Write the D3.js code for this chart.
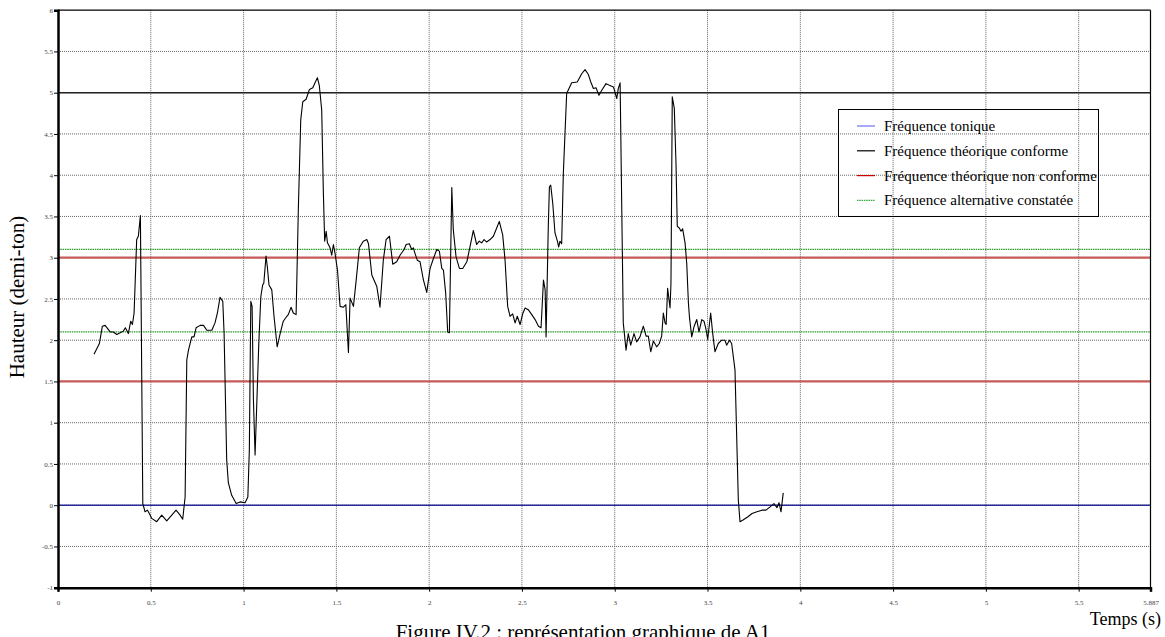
<!DOCTYPE html>
<html><head><meta charset="utf-8">
<script src="https://cdn.jsdelivr.net/npm/d3@7"></script>
<style>
html,body{margin:0;padding:0;background:#fff;}
svg{display:block;}
</style></head>
<body>
<script>
// ---- data ----
const times = [0.194,0.223,0.239,0.254,0.281,0.298,0.317,0.335,0.352,0.363,0.379,0.392,0.401,0.410,0.424,0.433,0.444,
0.457,0.469,0.482,0.492,0.505,0.532,0.559,0.586,0.613,0.636,0.658,0.672,0.685,0.694,0.703,0.721,0.733,0.744,0.766,0.784,0.802,0.829,0.846,0.859,0.873,0.888,0.895,
0.909,0.918,0.936,0.960,0.981,1.008,1.023,1.031,1.039,1.046,1.053,1.062,1.082,1.093,1.103,1.109,1.121,1.128,1.137,1.152,1.164,1.181,1.197,1.214,1.233,1.241,1.256,1.268,1.283,
1.295,1.308,1.319,1.337,1.355,1.373,1.385,1.398,1.408,1.421,1.430,1.437,1.445,1.452,1.466,1.475,1.484,1.493,1.506,1.520,1.538,1.551,1.565,1.574,1.592,1.606,1.624,1.645,1.664,1.673,1.691,1.718,1.735,1.753,1.768,1.786,1.804,1.825,1.843,1.865,1.876,1.893,1.906,1.915,1.924,1.936,1.951,1.969,1.987,
2.005,2.023,2.041,2.055,2.068,2.077,2.089,2.100,2.109,2.122,2.130,2.145,2.163,2.181,2.203,2.220,2.238,2.256,2.270,2.283,2.296,2.310,2.328,2.346,2.364,2.378,2.396,2.409,2.423,2.436,2.450,2.463,2.475,2.490,2.504,2.517,2.534,2.553,2.571,2.589,2.603,2.616,2.625,2.630,2.642,2.648,2.655,2.666,2.678,2.691,2.698,2.705,2.714,2.723,
2.741,2.768,2.798,2.822,2.840,2.858,2.871,2.885,2.899,2.915,2.930,2.953,2.971,2.993,3.011,3.019,3.029,3.046,3.061,3.073,3.086,3.104,3.118,3.136,3.154,3.169,3.181,3.194,3.208,3.226,3.240,3.253,3.262,3.271,3.277,3.285,3.298,3.303,3.310,3.321,3.330,3.337,3.348,3.357,3.366,3.379,3.388,3.397,3.403,3.415,3.428,3.442,3.454,3.469,3.481,3.492,3.501,3.517,3.528,3.540,3.558,3.576,3.594,3.603,3.618,3.630,3.648,3.666,
3.675,3.691,3.718,3.740,3.766,3.793,3.815,3.837,3.858,3.874,3.885,3.896,3.908];
const pitch = [1.83,1.96,2.17,2.18,2.10,2.10,2.07,2.09,2.11,2.15,2.08,2.23,2.19,2.33,3.22,3.26,3.51,
0.02,-0.08,-0.06,-0.10,-0.16,-0.20,-0.12,-0.19,-0.12,-0.06,-0.12,-0.17,0.10,1.76,1.88,2.04,2.04,2.15,2.18,2.18,2.12,2.12,2.21,2.33,2.52,2.47,2.08,
0.55,0.27,0.12,0.02,0.04,0.03,0.10,0.67,2.47,2.41,1.28,0.61,1.96,2.53,2.67,2.69,3.02,2.89,2.67,2.61,2.29,1.92,2.08,2.23,2.29,2.31,2.40,2.33,2.31,
3.58,4.67,4.89,4.92,5.04,5.06,5.12,5.18,5.09,4.79,3.78,3.20,3.32,3.18,3.12,3.03,3.16,3.05,2.85,2.41,2.40,2.43,1.85,2.51,2.41,2.71,3.12,3.20,3.22,3.17,2.79,2.65,2.40,2.97,3.22,3.26,2.92,2.95,3.03,3.10,3.16,3.17,3.10,3.12,3.05,2.97,2.95,2.73,2.58,
2.87,2.99,3.10,3.08,2.87,2.85,2.57,2.10,2.09,3.85,3.34,3.01,2.87,2.87,2.95,3.13,3.33,3.16,3.20,3.18,3.22,3.19,3.22,3.26,3.36,3.44,3.28,2.97,2.41,2.29,2.32,2.21,2.29,2.19,2.32,2.39,2.37,2.31,2.25,2.17,2.15,2.73,2.61,2.04,3.38,3.86,3.88,3.66,3.30,3.20,3.13,3.20,3.17,4.02,
4.99,5.12,5.13,5.23,5.28,5.22,5.13,5.05,5.06,4.97,5.03,5.11,5.09,5.07,4.93,5.05,5.12,2.21,1.88,2.08,1.94,2.08,1.98,2.04,2.17,2.05,2.05,1.86,1.99,1.92,1.96,2.05,2.33,2.21,2.19,2.63,2.39,2.69,4.95,4.81,4.15,3.38,3.36,3.32,3.35,3.18,2.93,2.45,2.27,2.04,2.17,2.25,2.10,2.25,2.23,2.13,2.01,2.33,2.08,1.86,1.96,2.00,2.00,1.94,2.00,1.96,1.64,0.06,
-0.20,-0.18,-0.14,-0.10,-0.08,-0.06,-0.06,-0.02,0.02,-0.03,0.03,-0.08,0.15];

const xTicks = [0,0.5,1,1.5,2,2.5,3,3.5,4,4.5,5,5.5,5.887];
const xTickLabels = ["0","0.5","1","1.5","2","2.5","3","3.5","4","4.5","5","5.5","5.887"];
const yTicks = [-1,-0.5,0,0.5,1,1.5,2,2.5,3,3.5,4,4.5,5,5.5,6];
const yTickLabels = ["-1","-0.5","0","0.5","1","1.5","2","2.5","3","3.5","4","4.5","5","5.5","6"];

const tonicLevel = [0];
const conformLevels = [5];
const nonConformLevels = [1.5, 3];
const altLevels = [2.1, 3.1];

const legendLabels = ["Fréquence tonique","Fréquence théorique conforme","Fréquence théorique non conforme","Fréquence alternative constatée"];
const legendColors = ["#7070ee","#000000","#cc0000","#33aa33"];

// ---- drawing ----
const W = 1165, H = 637;
const L = 58, R = 1150.5, T = 10.2, B = 587.7;
const serif = "'Liberation Serif','Times New Roman',serif";
const svg = d3.select("body").append("svg").attr("width", W).attr("height", H)
  .style("font-family", serif);

const x = d3.scaleLinear().domain([0, 5.887]).range([L, R]);
const y = d3.scaleLinear().domain([-1, 6]).range([B, T]);

// grid
const g = svg.append("g");
g.selectAll(".vg").data(xTicks.slice(1, -1)).join("line")
  .attr("x1", d => x(d)).attr("x2", d => x(d)).attr("y1", T).attr("y2", B)
  .attr("stroke", "#666").attr("stroke-width", 1).attr("stroke-dasharray", "1,1");
g.selectAll(".hg").data(yTicks.slice(1, -1)).join("line")
  .attr("x1", L).attr("x2", R).attr("y1", d => y(d)).attr("y2", d => y(d))
  .attr("stroke", "#666").attr("stroke-width", 1).attr("stroke-dasharray", "1,1");

// reference levels
function hline(levels, color, width, dash) {
  svg.append("g").selectAll("line").data(levels).join("line")
    .attr("x1", L).attr("x2", R).attr("y1", d => y(d)).attr("y2", d => y(d))
    .attr("stroke", color).attr("stroke-width", width)
    .attr("stroke-dasharray", dash || null);
}
hline(altLevels, "#2a9a2a", 1.2, "1.5,0.8");
hline(nonConformLevels, "#c85a5a", 2.2);
hline(conformLevels, "#222", 1.5);
hline(tonicLevel, "#2a2a9a", 1.5);

// frame
svg.append("line").attr("x1", L).attr("x2", R).attr("y1", T).attr("y2", T).attr("stroke", "#000").attr("stroke-width", 1.2);
svg.append("line").attr("x1", R).attr("x2", R).attr("y1", T).attr("y2", B).attr("stroke", "#000").attr("stroke-width", 1.2);

// axes
const yAxis = d3.axisLeft(y).tickValues(yTicks).tickFormat((d, i) => yTickLabels[i]).tickSize(4).tickPadding(1);
const ya = svg.append("g").attr("transform", `translate(${L},0)`).call(yAxis);
ya.attr("font-family", serif);
ya.select(".domain").attr("stroke-width", 2.5);
ya.selectAll("text").attr("font-size", 7).attr("fill", "#444");

const xAxis = d3.axisBottom(x).tickValues(xTicks).tickFormat((d, i) => xTickLabels[i]).tickSize(4).tickPadding(8);
const xa = svg.append("g").attr("transform", `translate(0,${B})`).call(xAxis);
xa.attr("font-family", serif);
xa.select(".domain").attr("stroke-width", 2.5);
xa.selectAll("text").attr("font-size", 7).attr("fill", "#444");

// curve
const line = d3.line().x((d, i) => x(times[i])).y(d => y(d));
svg.append("path").datum(pitch).attr("d", line)
  .attr("fill", "none").attr("stroke", "#000").attr("stroke-width", 1.1).attr("stroke-linejoin", "round");

// legend
const lg = svg.append("g");
lg.append("rect").attr("x", 838.5).attr("y", 109.5).attr("width", 260).attr("height", 107)
  .attr("fill", "none").attr("stroke", "#000").attr("stroke-width", 1);
const rows = lg.selectAll(".row").data(legendLabels).join("g")
  .attr("transform", (d, i) => `translate(0,${126 + i * 24.8})`);
rows.append("line").attr("x1", 857).attr("x2", 875).attr("y1", 0).attr("y2", 0)
  .attr("stroke", (d, i) => legendColors[i]).attr("stroke-width", 1.2)
  .attr("stroke-dasharray", (d, i) => i === 3 ? "1.5,0.8" : null);
rows.append("text").attr("x", 884).attr("y", 5).attr("font-size", 15).attr("fill", "#000")
  .attr("textLength", (d, i) => [null, null, 213, null][i]).text(d => d);

// titles
svg.append("text").attr("transform", "translate(24,297) rotate(-90)").attr("text-anchor", "middle")
  .attr("font-size", 21).text("Hauteur (demi-ton)");
svg.append("text").attr("x", 1161).attr("y", 625).attr("text-anchor", "end").attr("font-size", 18).text("Temps (s)");
svg.append("text").attr("x", 583).attr("y", 639).attr("text-anchor", "middle").attr("font-size", 21).text("Figure IV.2 : représentation graphique de A1");
</script>
</body></html>
